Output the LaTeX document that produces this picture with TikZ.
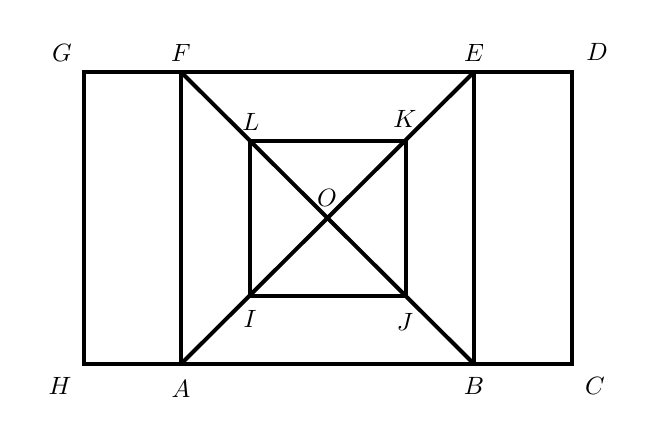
\documentclass[tikz,border=0pt]{standalone}
\begin{document}
\begin{tikzpicture}[x=0.4pt,y=-0.4pt,
  edge/.style={line width=1.6pt},
  lbl/.style={inner sep=0pt,font=\normalsize}]
\useasboundingbox (0,0) rectangle (658,438);
\coordinate (G) at (84,72);
\coordinate (F) at (181,72);
\coordinate (E) at (474,72);
\coordinate (D) at (572,72);
\coordinate (H) at (84,364);
\coordinate (A) at (181,364);
\coordinate (B) at (474,364);
\coordinate (C) at (572,364);
\coordinate (L) at (250,141);
\coordinate (K) at (406,141);
\coordinate (I) at (250,296);
\coordinate (J) at (406,296);
\coordinate (O) at (327.5,218);
\draw[edge] (G) -- (D) -- (C) -- (H) -- cycle;
\draw[edge] (F) -- (A);
\draw[edge] (E) -- (B);
\draw[edge] (F) -- (B);
\draw[edge] (E) -- (A);
\draw[edge] (L) -- (K) -- (J) -- (I) -- cycle;
\node[lbl] (lG) at (62,53) {$G$};
\node[lbl] (lF) at (181,53) {$F$};
\node[lbl] (lE) at (474,53) {$E$};
\node[lbl] (lD) at (597,52) {$D$};
\node[lbl] (lH) at (60,386) {$H$};
\node[lbl] (lA) at (181,389) {$A$};
\node[lbl] (lB) at (474,386) {$B$};
\node[lbl] (lC) at (595,386) {$C$};
\node[lbl] (lL) at (251,122) {$L$};
\node[lbl] (lK) at (405,119) {$K$};
\node[lbl] (lO) at (327,198) {$O$};
\node[lbl] (lI) at (250,319) {$I$};
\node[lbl] (lJ) at (405,322) {$J$};
\end{tikzpicture}
\end{document}
